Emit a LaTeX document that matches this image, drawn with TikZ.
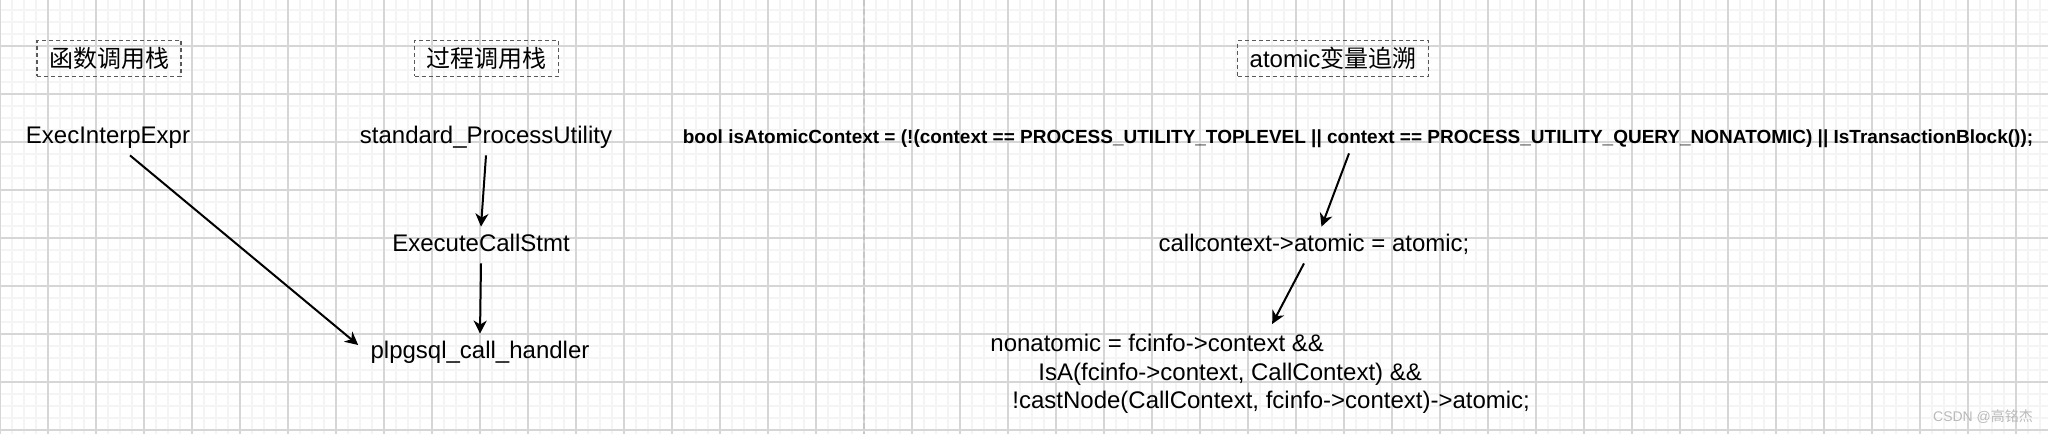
\documentclass[tikz,border=0pt]{standalone}
\usepackage{fontspec}
\setmainfont{Liberation Sans}
\newfontfamily\cjk{Noto Sans CJK SC}
\usetikzlibrary{arrows.meta}

\begin{document}
\begin{tikzpicture}[x=0.5pt, y=-0.5pt,
    minorLine/.style={gray!9, line width=1pt},
    majorLine/.style={gray!32, line width=0.6pt},
    divider/.style={gray!45, line width=1pt, dash pattern=on 3pt off 1.5pt},
    titleBox/.style={draw=gray!70!black, dash pattern=on 2pt off 1.5pt, line width=0.65pt, minimum height=17.5pt, inner xsep=6pt, font=\fontsize{12}{14}\selectfont},
    fnText/.style={font=\fontsize{12}{14}\selectfont, text height=9pt, text depth=3pt, inner sep=3pt},
    codeText/.style={font=\fontsize{12}{14.25}\selectfont, align=left, inner sep=3pt},
    arr/.style={-{Stealth[length=6.5pt, width=6.5pt, inset=2pt]}, line width=1pt}]
    \useasboundingbox (0,0) rectangle (2048,434);
    %grid
    \foreach \x in {0,12,...,2048} \draw[minorLine] (\x,0) -- (\x,434);
    \foreach \y in {10,22,...,434} \draw[minorLine] (0,\y) -- (2048,\y);
    \foreach \x in {0,48,...,2048} \draw[majorLine] (\x,0) -- (\x,434);
    \foreach \y in {46,94,...,434} \draw[majorLine] (0,\y) -- (2048,\y);
    %divider
    \draw[divider] (864,0) -- (864,434);

    %titles
    \node[titleBox] (funcTitle) at (109,58.5) {\cjk 函数调用栈};
    \node[titleBox] (procTitle) at (486.5,58.5) {\cjk 过程调用栈};
    \node[titleBox] (atomicTitle) at (1333,58.5) {atomic{\cjk 变量追溯}};

    %function stack
    \node[fnText] (execInterp) at (108,137) {ExecInterpExpr};
    %procedure stack
    \node[fnText] (stdUtility) at (486,137) {standard\_ProcessUtility};
    \node[fnText] (execCall) at (481,245) {ExecuteCallStmt};
    \node[fnText] (plHandler) at (480,352) {plpgsql\_call\_handler};
    %atomic trace
    \node[fnText, font=\fontsize{9.5}{11}\selectfont\bfseries, text height=7pt, text depth=2pt] (isAtomic) at (1358,138) {bool isAtomicContext = (!(context == PROCESS\_UTILITY\_TOPLEVEL || context == PROCESS\_UTILITY\_QUERY\_NONATOMIC) || IsTransactionBlock());};
    \node[fnText] (callCtx) at (1314,245) {callcontext->atomic = atomic;};
    \node[codeText, anchor=north west] (nonAtomic) at (984,328) {nonatomic = fcinfo->context \&\&\\\hspace{24pt}IsA(fcinfo->context, CallContext) \&\&\\\hspace{11pt}!castNode(CallContext, fcinfo->context)->atomic;};

    %ExecInterpExpr - handler
    \draw[arr] ([xshift=11pt]execInterp.south) -- ([xshift=-3pt, yshift=3.5pt]plHandler.west);
    %standard_ProcessUtility - ExecuteCallStmt
    \draw[arr] (stdUtility.south) -- (execCall.north);
    %ExecuteCallStmt - handler
    \draw[arr] (execCall.south) -- (plHandler.north);
    %isAtomicContext - callcontext
    \draw[arr] ([xshift=-4.5pt]isAtomic.south) -- ([xshift=3.75pt]callCtx.north);
    %callcontext - nonatomic
    \draw[arr] ([xshift=-5pt]callCtx.south) -- ([xshift=6pt, yshift=2pt]nonAtomic.north);

    %watermark
    \node[font=\fontsize{7}{8}\selectfont, text=gray!55] (mark) at (1983,417) {CSDN @{\cjk 高铭杰}};
\end{tikzpicture}
\end{document}
